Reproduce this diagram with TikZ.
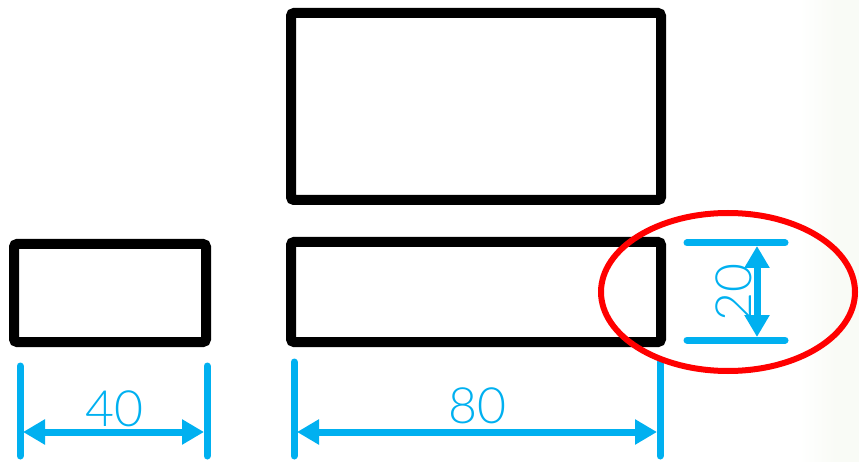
\documentclass[tikz,border=0pt]{standalone}
\usepackage{fontspec}
\setmainfont{Lato}[UprightFont=* Light]
\usetikzlibrary{arrows.meta,shapes.geometric}
\definecolor{dimblue}{HTML}{00B0F0}
\definecolor{bgstrip}{HTML}{F9FBF6}
\begin{document}
\begin{tikzpicture}[x=1pt,y=-1pt,
  part/.style={draw=black,line width=10pt,rounded corners=3pt,inner sep=0pt,outer sep=0pt,anchor=north west},
  extline/.style={draw=dimblue,line width=7pt,line cap=round},
  dimarrow/.style={draw=dimblue,line width=7pt,{Triangle[length=22pt,width=24pt]}-{Triangle[length=22pt,width=24pt]}},
  dimtext/.style={text=dimblue,font=\fontsize{50}{50}\selectfont,inner sep=0pt},
  highlight/.style={draw=red,line width=6pt,ellipse,inner sep=0pt}]
\useasboundingbox (0,0) rectangle (859,462);
\shade[left color=white,right color=bgstrip] (800,0) rectangle (835,462);
\fill[bgstrip] (835,0) rectangle (859,462);
% parts
\node[part,minimum width=370pt,minimum height=187pt] (big) at (291,13) {};
\node[part,minimum width=370pt,minimum height=100pt] (long) at (291,242) {};
\node[part,minimum width=192pt,minimum height=98pt] (small) at (14,244) {};
% dimension 40
\coordinate (l1a) at (20,366); \coordinate (l1b) at (20,456);
\coordinate (l2a) at (207,366); \coordinate (l2b) at (207,456);
\draw[extline] (l1a) -- (l1b);
\draw[extline] (l2a) -- (l2b);
\coordinate (a40l) at (23,432); \coordinate (a40r) at (204,432);
\draw[dimarrow] (a40l) -- (a40r);
\node[dimtext] (t40) at (114,409) {40};
% dimension 80
\coordinate (r1a) at (294,362); \coordinate (r1b) at (294,456);
\coordinate (r2a) at (660,362); \coordinate (r2b) at (660,456);
\draw[extline] (r1a) -- (r1b);
\draw[extline] (r2a) -- (r2b);
\coordinate (a80l) at (297,432); \coordinate (a80r) at (657,432);
\draw[dimarrow] (a80l) -- (a80r);
\node[dimtext] (t80) at (477,406) {80};
% dimension 20
\coordinate (h1a) at (687,243); \coordinate (h1b) at (785,243);
\coordinate (h2a) at (687,340); \coordinate (h2b) at (785,340);
\draw[extline] (h1a) -- (h1b);
\draw[extline] (h2a) -- (h2b);
\coordinate (a20t) at (757,246); \coordinate (a20b) at (757,337);
\draw[dimarrow] (a20t) -- (a20b);
\node[dimtext,rotate=90] (t20) at (734,292) {20};
% highlight
\node[highlight,minimum width=254pt,minimum height=158pt] (hl) at (728,292) {};
\end{tikzpicture}
\end{document}
